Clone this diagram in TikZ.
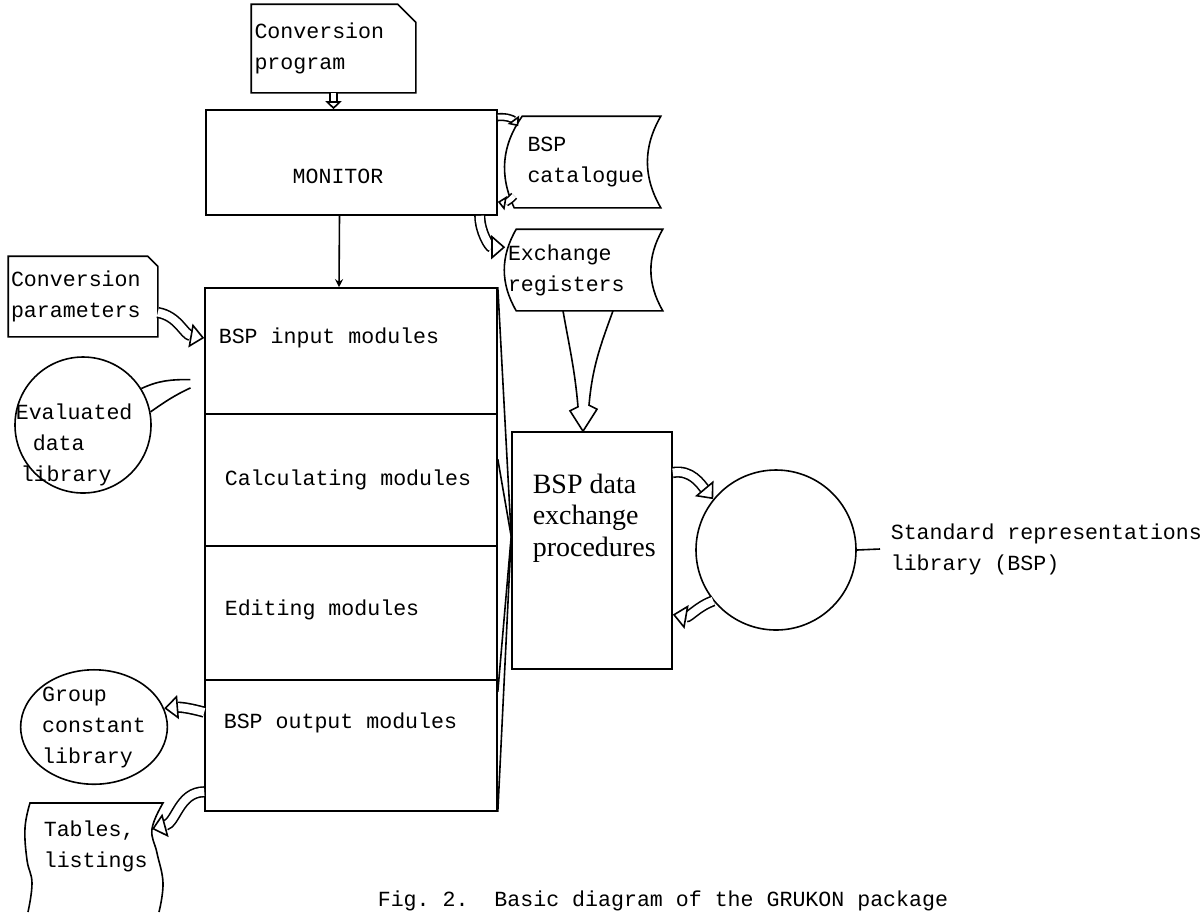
\documentclass[tikz,border=0pt]{standalone}
\usepackage{fontspec}
\usetikzlibrary{arrows.meta,shapes.geometric}
\newfontfamily\typefont{Liberation Mono}
\newfontfamily\printfont{Liberation Serif}

\tikzset{
  txt/.style={font=\typefont\fontsize{10.8}{15.5}\selectfont, align=left, inner sep=0pt},
  box/.style={rectangle, draw, inner sep=0pt},
  hollow/.style={double, double distance=4pt, -{Triangle[width=12pt, length=7pt, fill=white]}},
}

\begin{document}
\begin{tikzpicture}[x=0.5pt, y=-0.5pt, line width=0.8pt, >=stealth]
\useasboundingbox (0,0) rectangle (1204,912);

% Conversion program card
\node[txt, text width=79pt, minimum width=81.5pt, minimum height=43.5pt] (prog) at (333.5,48.5) {Conversion\\program};
\draw (prog.south west) -- (prog.north west) -- ([xshift=-9pt]prog.north east) -- ([yshift=-9pt]prog.north east) -- (prog.south east) -- cycle;

% Monitor
\node[box, minimum width=145.5pt, minimum height=52.5pt] (mon) at (351.5,162.5) {};
\node[txt] (montxt) at (338,176) {MONITOR};

% BSP catalogue and exchange registers
\node[txt, text width=60pt, minimum width=72.5pt, minimum height=45pt] (cat) at (587.5,162) {BSP\\catalogue};
\draw (cat.south west) to[bend left=30] ([xshift=4pt]cat.north west) -- (cat.north east) to[bend right=30] (cat.south east) -- cycle;

\node[txt, text width=75pt, minimum width=75pt, minimum height=40pt] (exr) at (583,270) {Exchange\\registers};
\draw ([xshift=4.5pt]exr.south west) to[bend left=30] ([xshift=4.5pt]exr.north west) -- ([xshift=2pt]exr.north east) to[bend right=30] ([xshift=2pt]exr.south east) -- cycle;

% Conversion parameters card
\node[txt, text width=72pt, minimum width=74pt, minimum height=39.5pt] (par) at (83,296.5) {Conversion\\parameters};
\draw (par.south west) -- (par.north west) -- ([xshift=-5pt]par.north east) -- ([yshift=-5pt]par.north east) -- (par.south east) -- cycle;

% Module column
\node[box, minimum width=146pt, minimum height=261.5pt] (col) at (351,549.5) {};
\foreach \y in {414,546,680}
  \draw (col.west |- 0,\y) -- (col.east |- 0,\y);
\node[txt, anchor=west] (inp) at (218,338) {BSP input modules};
\node[txt, anchor=west] (calc) at (224,480) {Calculating modules};
\node[txt, anchor=west] (edit) at (224,610) {Editing modules};
\node[txt, anchor=west] (outp) at (223,723) {BSP output modules};

% Libraries on the left
\node[circle, draw, minimum size=68pt, inner sep=0pt] (evl) at (83,425) {};
\node[txt, anchor=west] (evltxt) at (15,445) {Evaluated\\\hspace*{8.5pt}data\\\hspace*{2.5pt}library};
\node[txt, ellipse, draw, minimum width=68pt, minimum height=48.5pt] (grp) at (94,727) {Group\\constant\\library};

% Tables, listings
\node[txt, anchor=west] (tab) at (43,846) {Tables,\\listings};
\coordinate (tabin) at (152,829);
\draw plot[smooth, tension=0.7] coordinates {(28,912) (32,883) (27,860) (25,828) (30,803)}
  -- plot[smooth, tension=0.7] coordinates {(163,803) (152,829) (157,853) (163,883) (159,912)};

% Data exchange procedures and standard library
\node[box, minimum width=80pt, minimum height=118.5pt] (dex) at (592,550.5) {};
\node[anchor=west, inner sep=0pt, align=left, font=\printfont\fontsize{14}{15.75}\selectfont] (dextxt) at (532,518) {BSP data\\exchange\\procedures};
\node[circle, draw, minimum size=80pt, inner sep=0pt] (std) at (776,550) {};
\node[txt, anchor=west, inner xsep=5pt] (stdlbl) at (880,549) {Standard representations\\library (BSP)};
\draw (std.east) -- (stdlbl.west);

% Caption
\node[txt, anchor=base west] (cap) at (377,906) {Fig.\ 2.\ \ Basic diagram of the GRUKON package};

% Connectors
\draw[hollow, double distance=2.5pt, -{Triangle[width=8pt, length=4pt, fill=white]}] (prog.south) -- (prog.south |- mon.north);
\draw[->] ([xshift=-6pt]mon.south) -- ([xshift=-6pt]col.north);
\draw[hollow, double distance=2.5pt, -{Triangle[width=7pt, length=4pt, fill=white]}] ([yshift=-4pt]mon.north east) to[bend left=30] ([xshift=2pt,yshift=-5pt]cat.north west);
\draw[hollow, double distance=2.5pt, -{Triangle[width=7pt, length=4pt, fill=white]}] ([yshift=6pt]cat.south west) to[bend left=30] ([yshift=7pt]mon.south east);
\draw[hollow] ([xshift=-9pt]mon.south east) to[out=-90, in=180] ([xshift=-1pt,yshift=-9pt]exr.north west);
\draw[hollow] ([yshift=-8pt]par.east) to[out=-10, in=170] (col.west |- inp.west);
\draw (evl.32) to[out=25, in=180] ++(49,-9);
\draw (evl.11) to[out=35, in=205] ++(40,-24);
\draw[hollow] (col.west |- outp.north) to[bend right=10] (grp.15);
\draw[hollow] ([yshift=10pt]col.south west) to[out=180, in=15] (tabin);

% Exchange registers to data exchange procedures (wide hollow arrow)
\draw ([xshift=-10pt]exr.south) to[out=-80, in=95] ++(15,96) -- ++(-8,4) -- (exr.south |- dex.north)
  -- ++(14,-22) -- ++(-8,-4) to[out=85, in=-110] ([xshift=15pt]exr.south);

% Column to data exchange procedures
\coordinate (dexin) at ([yshift=7pt]dex.west);
\draw (col.north east) -- (dexin) -- (col.south east);
\draw ([yshift=-86pt]col.north east) -- (dexin) -- ([yshift=60pt]col.south east);

% Data exchange procedures and standard library
\draw[hollow] ([yshift=39pt]dex.east) to[out=10, in=130] (std.141);
\draw[hollow] (std.219) to[out=200, in=-10] ([yshift=-32pt]dex.east);

\end{tikzpicture}
\end{document}
